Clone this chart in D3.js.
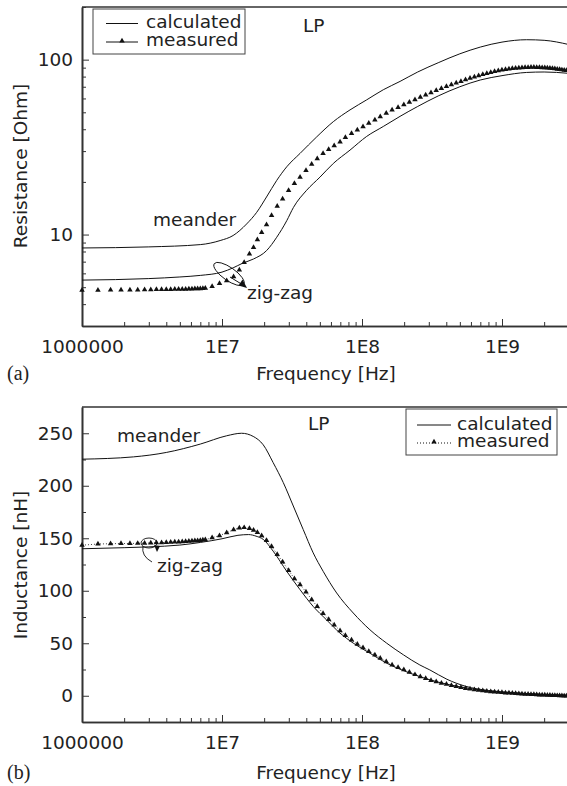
<!DOCTYPE html>
<html>
<head>
<meta charset="utf-8">
<script src="https://cdn.jsdelivr.net/npm/d3@7"></script>
<style>
  body { margin: 0; background: #fff; }
  svg text { font-family: "DejaVu Sans", sans-serif; font-size: 18.5px; fill: #222; }
</style>
</head>
<body>
<svg id="chart" width="567" height="786"></svg>
<script>
// Eje X (frecuencia) comun a las dos graficas
const xTickValues = [1e6, 1e7, 1e8, 1e9];
const xTickLabels = ["1000000", "1E7", "1E8", "1E9"];
const rTickValues = [10, 100];
const lTickValues = [0, 50, 100, 150, 200, 250];

// Frecuencias de los puntos medidos (MHz)
const measFreqMHz = [1.0, 1.3, 1.6, 1.9, 2.2, 2.5, 2.8, 3.1, 3.4, 3.7, 4.0, 4.3, 4.6, 4.9, 5.2, 5.5, 5.8, 6.1, 6.4, 6.7, 7.0, 7.3, 7.6,
  8.5, 9.6, 10.8, 12.1,
  13.3, 14.4, 15.7, 16.8, 17.9, 19.2, 20.8, 22.6, 24.8, 27.1, 29.9, 32.9, 36.1, 39.8, 43.7, 47.9, 52.7, 57.8, 63.3, 69.7,
  76.1, 84.2, 92.6, 101.7, 111.8, 123.6, 135, 149, 164, 181,
  199, 218, 239, 261, 285, 311, 339, 369, 401, 435, 471, 509, 549, 591, 635, 681, 729, 779, 831, 885, 941, 999,
  1059, 1121, 1185, 1251, 1319, 1389, 1461, 1535, 1611, 1689, 1769, 1851, 1935, 2021, 2109, 2199, 2291, 2385, 2481,
  2579, 2679, 2781, 2885];

// (a) resistencia medida [Ohm]
const measResistance = [4.81, 4.81, 4.82, 4.82, 4.83, 4.83, 4.84, 4.84, 4.85, 4.85, 4.86, 4.86, 4.87, 4.87, 4.88, 4.88, 4.89, 4.89, 4.90, 4.90, 4.91, 4.92, 4.93,
  5.05, 5.25, 5.45, 5.75,
  6.27, 6.93, 7.74, 8.45, 9.36, 10.27, 11.4, 12.85, 14.55, 16.0, 17.9, 19.6, 21.3, 23.3, 25.3, 27.2, 29.1, 30.7, 32.2, 33.9,
  35.9, 37.9, 39.6, 41.4, 43.3, 45.2, 47.2, 49.4, 51.6, 53.4,
  55.3, 57.2, 59.1, 61.0, 62.9, 64.8, 66.6, 68.4, 70.2, 71.9, 73.6, 75.2, 76.8, 78.3, 79.7, 81.0, 82.3, 83.5, 84.6, 85.6, 86.5, 87.3,
  88.0, 88.6, 89.1, 89.5, 89.8, 90.1, 90.3, 90.4, 90.5, 90.5, 90.4, 90.3, 90.1, 89.9, 89.6, 89.3, 89.0, 88.7, 88.3,
  87.9, 87.5, 87.1, 86.7];

// (b) inductancia medida [nH]
const measInductance = [143.4, 144.5, 144.8, 145.0, 145.0, 145.2, 145.3, 145.5, 145.7, 145.9, 146.0, 146.2, 146.4, 146.6, 146.8, 147.0, 147.2, 147.4, 147.6, 147.8, 148.0, 148.3, 148.6,
  150.5, 152.5, 155.3, 158.2,
  159.8, 160.2, 159.3, 157.8, 155.5, 152.5, 148.0, 142.3, 134.7, 127.5, 119.4, 111.6, 105.8, 99.0, 91.6, 85.0, 78.5, 72.7, 67.5, 62.1,
  57.4, 53.1, 49.2, 45.8, 42.3, 38.9, 35.9, 32.4, 29.3, 26.9,
  24.8, 22.5, 20.2, 18.2, 16.5, 14.7, 13.3, 12.0, 11.0, 9.9, 8.8, 7.9, 7.1, 6.4, 5.8, 5.3, 4.8, 4.4, 4.0, 3.7, 3.4, 3.1,
  2.8, 2.6, 2.4, 2.2, 2.0, 1.8, 1.6, 1.5, 1.3, 1.2, 1.0, 0.9, 0.8, 0.7, 0.6, 0.5, 0.4, 0.3, 0.2,
  0.1, 0.0, -0.1, -0.2];

// Curvas calculadas (a)
const meanderRFreqMHz = [1, 3, 7, 9.7, 12, 15, 17.7, 20.8, 24.6, 29, 36.1, 47.5, 62.4, 82.1, 108, 142, 187, 250, 350, 500, 700, 1000, 1500, 2000, 3000];
const meanderR = [8.38, 8.5, 8.76, 9.24, 9.87, 11.5, 13.4, 16.4, 20.4, 24.4, 29.1, 36.2, 44.2, 51.6, 58.9, 67.3, 75.1, 85, 96, 108, 118, 126, 130, 129, 122];
const zigzagRFreqMHz = [1, 3, 5, 7, 10, 12, 14, 16.8, 20.8, 24.6, 29, 32.4, 40.2, 50.1, 62.4, 82.1, 108, 142, 187, 250, 350, 500, 700, 1000, 1500, 2000, 3000];
const zigzagR = [5.49, 5.6, 5.72, 5.84, 6.1, 6.45, 6.85, 7.25, 8.09, 9.65, 12, 14.3, 17.9, 21.3, 25.5, 30.4, 36.4, 41.5, 47.4, 54, 62, 70, 76.5, 81, 84.5, 85, 83.5];

// Curvas calculadas (b)
const meanderLFreqMHz = [1, 2.33, 4, 7, 10.8, 13.8, 16.7, 19.7, 23.2, 27.4, 32.3, 38, 44.8, 52.8, 65.9, 86.6, 114, 150, 198, 259, 305, 404, 550, 800, 1200, 2000, 3000];
const meanderL = [225.3, 227.5, 231.7, 239.7, 247.6, 250, 247, 239, 222, 203, 180.7, 158.4, 136.1, 118.5, 97.9, 78.8, 62.8, 50.1, 38.9, 29.3, 24.6, 15.7, 9.0, 5.0, 3.0, 1.2, 0.3];
const zigzagLFreqMHz = [1, 2, 3, 5, 7, 10, 13, 15.5, 17.5, 19.7, 23.2, 29, 36.1, 44.8, 55.7, 69.6, 86.6, 114, 150, 198, 259, 350, 500, 700, 1000, 1500, 2000, 3000];
const zigzagL = [140, 141, 141.8, 143.5, 146, 149.5, 152.8, 153.5, 152, 148.9, 137.7, 118.5, 101, 85.1, 72.4, 59.7, 50.1, 40.5, 31, 23.9, 18.2, 13, 8.5, 5.5, 3.3, 1.8, 1.0, 0.2];

const svg = d3.select("#chart");
const frameColor = "#333";

// marcas menores en escala log (2..9 por decada)
function minorLogTicks(lo, hi) {
  const out = [];
  for (let dec = lo; dec < hi; dec *= 10) {
    for (let k = 2; k <= 9; k++) {
      if (dec * k <= hi) out.push(dec * k);
    }
  }
  return out;
}

function drawFrame(g, x, y, top, bottom) {
  const left = x.range()[0], right = x.range()[1];
  // eje X
  const xAxis = g.append("g")
    .attr("transform", `translate(0,${bottom})`)
    .call(d3.axisBottom(x).tickValues(xTickValues).tickSize(-7).tickSizeOuter(0)
      .tickFormat((d, i) => xTickLabels[i]));
  xAxis.selectAll("text").attr("y", 27).attr("dy", null);
  g.append("g")
    .attr("transform", `translate(0,${bottom})`)
    .call(d3.axisBottom(x).tickValues(minorLogTicks(1e6, 3e9)).tickSize(-4).tickSizeOuter(0).tickFormat(""));
  // linea superior
  g.append("line")
    .attr("x1", left).attr("x2", right + 5)
    .attr("y1", top).attr("y2", top);
  g.selectAll("path.domain, line").attr("stroke", frameColor);
  g.selectAll("path.domain").attr("stroke-width", 1.6);
  g.select(":scope > line").attr("stroke-width", 1.6);
  return xAxis;
}

// ---------- (a) Resistencia ----------
const xA = d3.scaleLog().domain([1e6, 3e9]).range([82, 568.8]);
const yA = d3.scaleLog().domain([3, 200]).range([326, 7]);
const gA = svg.append("g");

drawFrame(gA, xA, yA, 7, 326);

gA.append("g")
  .attr("transform", "translate(82,0)")
  .call(d3.axisLeft(yA).tickValues(rTickValues).tickSize(-7).tickSizeOuter(0).tickPadding(9)
    .tickFormat(d3.format("d")));
gA.append("g")
  .attr("transform", "translate(82,0)")
  .call(d3.axisLeft(yA).tickValues(minorLogTicks(1, 200).filter(v => v >= 3 && v !== 10 && v !== 100))
    .tickSize(-4).tickSizeOuter(0).tickFormat(""));
gA.selectAll("path.domain").attr("stroke", frameColor).attr("stroke-width", 1.6);
gA.selectAll(".tick line").attr("stroke", frameColor);

const lineA = d3.line()
  .x(d => xA(d[0] * 1e6))
  .y(d => yA(d[1]))
  .curve(d3.curveMonotoneX);

gA.append("path")
  .datum(meanderRFreqMHz.map((f, i) => [f, meanderR[i]]))
  .attr("d", lineA).attr("fill", "none").attr("stroke", "#111").attr("stroke-width", 1);
gA.append("path")
  .datum(zigzagRFreqMHz.map((f, i) => [f, zigzagR[i]]))
  .attr("d", lineA).attr("fill", "none").attr("stroke", "#111").attr("stroke-width", 1);

const tri = d3.symbol(d3.symbolTriangle, 13);
gA.selectAll("path.measA")
  .data(measFreqMHz.map((f, i) => [f, measResistance[i]]))
  .join("path")
  .attr("class", "measA")
  .attr("d", tri)
  .attr("transform", d => `translate(${xA(d[0] * 1e6)},${yA(d[1])})`)
  .attr("fill", "#111");

// leyenda (a)
gA.append("rect").attr("x", 93).attr("y", 9).attr("width", 152).attr("height", 45)
  .attr("fill", "#fff").attr("stroke", "#444").attr("stroke-width", 1);
gA.append("line").attr("x1", 106).attr("x2", 138).attr("y1", 23.5).attr("y2", 23.5).attr("stroke", "#111");
gA.append("line").attr("x1", 106).attr("x2", 138).attr("y1", 42).attr("y2", 42).attr("stroke", "#111");
gA.append("path").attr("d", tri).attr("transform", "translate(122,41)").attr("fill", "#111");
gA.append("text").attr("x", 146).attr("y", 28).text("calculated");
gA.append("text").attr("x", 146).attr("y", 45.5).text("measured");

gA.append("text").attr("x", 303).attr("y", 31.5).text("LP");
gA.append("text").attr("x", 153).attr("y", 226).text("meander");
gA.append("text").attr("x", 247).attr("y", 299).text("zig-zag");

// elipse y flecha
gA.append("ellipse").attr("cx", 229).attr("cy", 274).attr("rx", 18).attr("ry", 6.5)
  .attr("transform", "rotate(35,229,274)")
  .attr("fill", "none").attr("stroke", "#111").attr("stroke-width", 0.9);
gA.append("line").attr("x1", 230).attr("y1", 277).attr("x2", 243).attr("y2", 285)
  .attr("stroke", "#111").attr("stroke-width", 1);
gA.append("path").attr("d", "M247,288 L238.5,285.5 L242.5,279.5 Z").attr("fill", "#111");

gA.append("text").attr("x", 326).attr("y", 380).attr("text-anchor", "middle").text("Frequency [Hz]");
gA.append("text").attr("transform", "translate(27,166) rotate(-90)").attr("text-anchor", "middle").text("Resistance [Ohm]");
gA.append("text").attr("x", 7).attr("y", 380)
  .style("font-family", "'Liberation Serif', serif").style("font-size", "20px").text("(a)");

// ---------- (b) Inductancia ----------
const xB = d3.scaleLog().domain([1e6, 3e9]).range([82, 568.8]);
const yB = d3.scaleLinear().domain([-25, 275]).range([722, 407]);
const gB = svg.append("g");

const xAxisB = drawFrame(gB, xB, yB, 407, 722);

gB.append("g")
  .attr("transform", "translate(82,0)")
  .call(d3.axisLeft(yB).tickValues(lTickValues).tickSize(-7).tickSizeOuter(0).tickPadding(9));
gB.append("g")
  .attr("transform", "translate(82,0)")
  .call(d3.axisLeft(yB).tickValues([25, 75, 125, 175, 225]).tickSize(-4).tickSizeOuter(0).tickFormat(""));
gB.selectAll("path.domain").attr("stroke", frameColor).attr("stroke-width", 1.6);
gB.selectAll(".tick line").attr("stroke", frameColor);

const lineB = d3.line()
  .x(d => xB(d[0] * 1e6))
  .y(d => yB(d[1]))
  .curve(d3.curveMonotoneX);

gB.append("path")
  .datum(meanderLFreqMHz.map((f, i) => [f, meanderL[i]]))
  .attr("d", lineB).attr("fill", "none").attr("stroke", "#111").attr("stroke-width", 1);
gB.append("path")
  .datum(zigzagLFreqMHz.map((f, i) => [f, zigzagL[i]]))
  .attr("d", lineB).attr("fill", "none").attr("stroke", "#111").attr("stroke-width", 1);

const measB = measFreqMHz.map((f, i) => [f, measInductance[i]]);
gB.append("path")
  .datum(measB)
  .attr("d", d3.line().x(d => xB(d[0] * 1e6)).y(d => yB(d[1])))
  .attr("fill", "none").attr("stroke", "#111").attr("stroke-width", 0.8).attr("stroke-dasharray", "1,2");
gB.selectAll("path.measB")
  .data(measB)
  .join("path")
  .attr("class", "measB")
  .attr("d", tri)
  .attr("transform", d => `translate(${xB(d[0] * 1e6)},${yB(d[1])})`)
  .attr("fill", "#111");

// leyenda (b)
gB.append("rect").attr("x", 406).attr("y", 409).attr("width", 151).attr("height", 46)
  .attr("fill", "#fff").attr("stroke", "#444").attr("stroke-width", 1);
gB.append("line").attr("x1", 417).attr("x2", 451).attr("y1", 425).attr("y2", 425).attr("stroke", "#111");
gB.append("line").attr("x1", 417).attr("x2", 451).attr("y1", 443).attr("y2", 443)
  .attr("stroke", "#111").attr("stroke-dasharray", "1,2");
gB.append("path").attr("d", tri).attr("transform", "translate(434,442)").attr("fill", "#111");
gB.append("text").attr("x", 457).attr("y", 430).text("calculated");
gB.append("text").attr("x", 457).attr("y", 447).text("measured");

gB.append("text").attr("x", 308).attr("y", 430).text("LP");
gB.append("text").attr("x", 117).attr("y", 442).text("meander");
gB.append("text").attr("x", 157).attr("y", 572).text("zig-zag");

gB.append("ellipse").attr("cx", 149).attr("cy", 543).attr("rx", 8).attr("ry", 5)
  .attr("fill", "none").attr("stroke", "#111").attr("stroke-width", 0.9);
gB.append("path").attr("d", "M143,546 Q141,556 152,562")
  .attr("fill", "none").attr("stroke", "#111").attr("stroke-width", 0.9);
gB.append("path").attr("d", "M157,552 L154,545 L160,546 Z").attr("fill", "#111");

gB.append("text").attr("x", 326).attr("y", 779).attr("text-anchor", "middle").text("Frequency [Hz]");
gB.append("text").attr("transform", "translate(27,565) rotate(-90)").attr("text-anchor", "middle").text("Inductance [nH]");
gB.append("text").attr("x", 7).attr("y", 779)
  .style("font-family", "'Liberation Serif', serif").style("font-size", "20px").text("(b)");

// estilo de los textos de los ejes
svg.selectAll(".tick text").attr("fill", "#222").style("font-size", "18.5px")
  .style("font-family", "'DejaVu Sans', sans-serif");
</script>
</body>
</html>
